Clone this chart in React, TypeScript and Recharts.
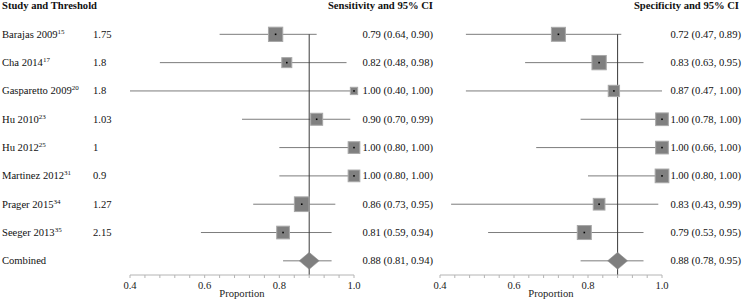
import React from 'react';
import { ScatterChart, Scatter, XAxis, YAxis, ReferenceLine } from 'recharts';

const studies = ['Barajas 2009', 'Cha 2014', 'Gasparetto 2009', 'Hu 2010', 'Hu 2012', 'Martinez 2012', 'Prager 2015', 'Seeger 2013'];
const refs = ['15', '17', '20', '23', '25', '31', '34', '35'];
const thresholds = ['1.75', '1.8', '1.8', '1.03', '1', '0.9', '1.27', '2.15'];

const sensEst = [0.79, 0.82, 1.0, 0.9, 1.0, 1.0, 0.86, 0.81];
const sensLo = [0.64, 0.48, 0.4, 0.7, 0.8, 0.8, 0.73, 0.59];
const sensHi = [0.9, 0.98, 1.0, 0.99, 1.0, 1.0, 0.95, 0.94];
const sensWeight = [14.3, 10, 7.3, 12, 11.7, 11.7, 14.7, 12.7];
const sensPooled = [0.88, 0.81, 0.94];

const specEst = [0.72, 0.83, 0.87, 1.0, 1.0, 1.0, 0.83, 0.79];
const specLo = [0.47, 0.63, 0.47, 0.78, 0.66, 0.8, 0.43, 0.53];
const specHi = [0.89, 0.95, 1.0, 1.0, 1.0, 1.0, 0.99, 0.95];
const specWeight = [14, 14.3, 11.3, 12.7, 12.7, 13.7, 11.7, 14];
const specPooled = [0.88, 0.78, 0.95];

const xTicks = [0.4, 0.44, 0.48, 0.52, 0.56, 0.6, 0.64, 0.68, 0.72, 0.76, 0.8, 0.84, 0.88, 0.92, 0.96, 1.0];
const xLabels = ['0.4', '0.6', '0.8', '1.0'];
const rowTicks = [-1, 0, 1, 2, 3, 4, 5, 6, 7, 8];

const FONT = '"Liberation Serif", "Times New Roman", serif';
const FS = 10.6;
const W = 742;
const H = 301;

const fmt = (v: number) => v.toFixed(2);
const ciText = (e: number, l: number, h: number) => `${fmt(e)} (${fmt(l)}, ${fmt(h)})`;

const Square = (props: any) => {
  const { cx, cy, payload } = props;
  if (cx == null || cy == null) return null;
  const s = payload.w;
  return (
    <g>
      <rect x={cx - s / 2} y={cy - s / 2} width={s} height={s} fill="#808080" stroke="#a8a8a8" strokeWidth={1} />
      <rect x={cx - 0.8} y={cy - 0.8} width={1.6} height={1.6} fill="#000" />
    </g>
  );
};

const Diamond = (props: any) => {
  const { cx, cy } = props;
  if (cx == null || cy == null) return null;
  const hw = 10;
  const hh = 8.5;
  return (
    <polygon
      points={`${cx - hw},${cy} ${cx},${cy - hh} ${cx + hw},${cy} ${cx},${cy + hh}`}
      fill="#7f7f7f"
      stroke="#8c8c8c"
      strokeWidth={0.5}
    />
  );
};

const txt = { fontFamily: FONT, fontSize: FS, fill: '#111' } as const;

type PanelProps = {
  isLeft: boolean;
  header: string;
  est: number[];
  lo: number[];
  hi: number[];
  weight: number[];
  pooled: number[];
  marginLeft: number;
  marginRight: number;
  textRight: number;
  headerRight: number;
};

function Panel(p: PanelProps) {
  const points = p.est.map((e, i) => ({ x: e, y: i, w: p.weight[i] }));
  const pooledPoint = [{ x: p.pooled[0], y: studies.length }];

  const renderTick = (props: any) => {
    const v = props.payload?.value;
    const y = props.y;
    if (v === -1) {
      return (
        <g>
          {p.isLeft && (
            <text x={2} y={y + 3} {...txt} fontWeight="bold">Study and Threshold</text>
          )}
          <text x={p.headerRight} y={y + 3} {...txt} fontWeight="bold" textAnchor="end">{p.header}</text>
        </g>
      );
    }
    if (v === studies.length) {
      return (
        <g>
          {p.isLeft && <text x={2} y={y + 3.5} {...txt}>Combined</text>}
          <text x={p.textRight} y={y + 3.5} {...txt} textAnchor="end">
            {ciText(p.pooled[0], p.pooled[1], p.pooled[2])}
          </text>
        </g>
      );
    }
    const i = v as number;
    return (
      <g>
        {p.isLeft && (
          <text x={2} y={y + 3.5} {...txt}>
            {studies[i]}
            <tspan fontSize={7} dy={-4}>{refs[i]}</tspan>
          </text>
        )}
        {p.isLeft && <text x={93} y={y + 3.5} {...txt}>{thresholds[i]}</text>}
        <text x={p.textRight} y={y + 3.5} {...txt} textAnchor="end">
          {ciText(p.est[i], p.lo[i], p.hi[i])}
        </text>
      </g>
    );
  };

  const tickFmt = (v: number) => {
    const s = v.toFixed(1);
    return Math.abs(v * 10 - Math.round(v * 10)) < 1e-6 && xLabels.includes(s) ? s : '';
  };

  return (
    <div style={{ position: 'absolute', left: 0, top: 0, width: W, height: H }}>
      <ScatterChart width={W} height={H} margin={{ top: 6, right: p.marginRight, bottom: 0, left: 0 }}>
        <XAxis
          type="number"
          dataKey="x"
          domain={[0.4, 1.0]}
          ticks={xTicks}
          interval={0}
          tickFormatter={tickFmt}
          tickSize={3}
          tickMargin={3}
          height={26}
          axisLine={{ stroke: '#b4b4b4' }}
          tickLine={{ stroke: '#b4b4b4' }}
          tick={{ fontFamily: FONT, fontSize: FS, fill: '#222' }}
          label={{ value: 'Proportion', position: 'insideBottom', offset: 4, style: { fontFamily: FONT, fontSize: FS, fill: '#222' } }}
        />
        <YAxis
          type="number"
          dataKey="y"
          domain={[-1, 8.5]}
          reversed
          ticks={rowTicks}
          interval={0}
          width={p.marginLeft}
          axisLine={false}
          tickLine={false}
          tick={renderTick}
        />
        {p.est.map((_, i) => (
          <ReferenceLine
            key={`ci${i}`}
            segment={[{ x: p.lo[i], y: i }, { x: p.hi[i], y: i }]}
            stroke="#7c7c7c"
            strokeWidth={1}
          />
        ))}
        <ReferenceLine
          segment={[{ x: p.pooled[1], y: studies.length }, { x: p.pooled[2], y: studies.length }]}
          stroke="#7c7c7c"
          strokeWidth={1}
        />
        <ReferenceLine
          segment={[{ x: p.pooled[0], y: 0 }, { x: p.pooled[0], y: 8.5 }]}
          stroke="#3a3a3a"
          strokeWidth={1}
        />
        <Scatter data={points} shape={Square} isAnimationActive={false} />
        <Scatter data={pooledPoint} shape={Diamond} isAnimationActive={false} />
      </ScatterChart>
    </div>
  );
}

export default function App() {
  return (
    <div style={{ position: 'absolute', left: 0, top: 0, width: W, height: H, background: '#fff' }}>
      <Panel
        isLeft
        header="Sensitivity and 95% CI"
        est={sensEst}
        lo={sensLo}
        hi={sensHi}
        weight={sensWeight}
        pooled={sensPooled}
        marginLeft={130}
        marginRight={W - 354}
        textRight={433}
        headerRight={433}
      />
      <Panel
        isLeft={false}
        header="Specificity and 95% CI"
        est={specEst}
        lo={specLo}
        hi={specHi}
        weight={specWeight}
        pooled={specPooled}
        marginLeft={440}
        marginRight={80}
        textRight={741}
        headerRight={739}
      />
    </div>
  );
}
